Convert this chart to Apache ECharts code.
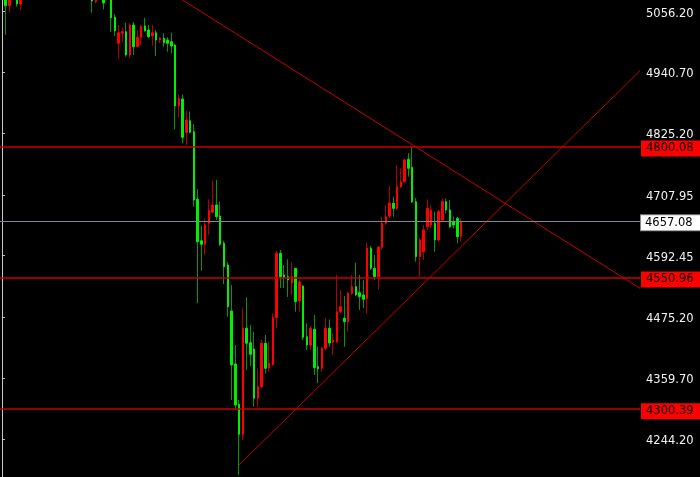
<!DOCTYPE html>
<html><head><meta charset="utf-8">
<script src="https://cdn.jsdelivr.net/npm/echarts@6/dist/echarts.min.js"></script>
<style>html,body{margin:0;padding:0;background:#000;}#c{width:700px;height:477px;}</style>
</head><body><div id="c"></div>
<script>
const N = null;
// candle values, one entry per candle (null = candle above the visible range)
const opens = [5097.5,5067.7,N,5084.2,5070.9, N,N,N,N,N,N,N,N,N,N,N,N,N,N,N,N,N,N,
  5084.2,5076.0,N,5084.2,N,5082.3,5045.6,4996.2,5015.2,5018.2,4973.9,5031.0,4989.7,5007.6,5029.1,5021.5,5010.1,5016.3,5002.4,5005.7,5002.4,4999.2,
  4992.9,4877.0,4890.3,4826.9,4849.0,4828.1,4699.6,4620.8,4614.0,4653.9,4674.8,4688.7,4667.8,4615.9,4574.6,4487.2,4386.4,4309.8,4252.7,4454.3,
  4426.9,4414.9,4321.2,4343.2,4425.8,4378.8,4384.5,4474.4,4596.9,4555.6,4552.4,4540.4,4568.3,4506.2,4534.7,4438.3,4422.5,4452.4,4381.3,4378.2,
  4416.2,4454.3,4428.2,4428.8,4485.8,4473.3,4466.8,4520.8,4533.4,4522.0,4517.6,4511.3,4606.4,4568.3,4552.4,4608.3,4653.9,4667.8,4692.0,4682.4,
  4723.5,4733.0,4775.6,4760.4,4695.0,4590.4,4599.9,4647.5,4650.7,4653.9,4622.2,4660.2,4695.0,4679.2,4657.0,4663.4,4629.8];
const closes = [5067.7,5088.0,N,5070.9,5088.0, N,N,N,N,N,N,N,N,N,N,N,N,N,N,N,N,N,N,
  5076.6,5082.3,N,5072.8,N,5044.8,5020.1,5016.3,5018.2,4973.9,5031.0,4989.7,5007.6,5027.7,5020.1,5008.7,5016.3,5002.4,5005.7,4997.3,4996.2,4991.0,
  4877.0,4891.6,4817.4,4850.3,4826.9,4698.2,4618.9,4614.0,4650.7,4677.9,4688.7,4666.5,4614.0,4571.4,4495.3,4384.5,4308.4,4252.7,4454.3,4425.8,
  4404.8,4321.2,4343.2,4425.8,4378.2,4387.7,4474.4,4596.9,4552.4,4551.2,4546.1,4552.4,4504.9,4542.3,4437.2,4422.5,4454.3,4379.4,4376.9,4416.2,
  4454.3,4426.3,4432.0,4485.8,4495.3,4466.8,4520.8,4533.4,4517.6,4514.4,4509.4,4606.4,4568.3,4552.4,4608.3,4653.9,4666.5,4692.5,4682.4,4723.5,
  4733.0,4774.3,4758.5,4695.0,4590.4,4622.2,4641.2,4682.4,4679.2,4622.2,4676.0,4695.0,4679.2,4647.5,4650.7,4628.4,4657.08];
const lows = [5012.0,5054.4,N,5065.8,5059.5, N,N,N,N,N,N,N,N,N,N,N,N,N,N,N,N,N,N,
  5054.4,5072.2,N,5060.8,N,5018.2,5010.1,4966.3,4997.3,4970.7,4968.8,4973.9,4989.1,4992.9,5018.2,5005.7,4991.6,4972.0,4996.2,4989.7,4980.2,4977.2,
  4832.6,4855.5,4806.0,4802.8,4825.0,4685.5,4501.8,4563.8,4593.6,4631.7,4672.9,4660.2,4610.8,4538.5,4476.3,4317.9,4300.8,4175.0,4241.9,4375.0,
  4382.6,4305.2,4304.6,4340.8,4368.7,4371.7,4383.5,4454.8,4530.9,4530.9,4513.8,4517.6,4485.8,4485.8,4432.0,4413.0,4413.0,4365.5,4349.7,4371.7,
  4413.0,4418.7,4403.5,4426.3,4483.4,4419.3,4447.8,4517.6,4515.7,4489.1,4492.9,4482.8,4565.1,4546.1,4528.4,4603.2,4650.7,4664.0,4666.5,4679.2,
  4721.0,4730.5,4742.5,4692.5,4580.9,4552.4,4584.1,4641.2,4645.0,4599.9,4618.9,4656.4,4672.9,4644.4,4644.4,4615.9,4618.9];
const highs = [5107.0,5097.5,N,5093.7,5097.5, N,N,N,N,N,N,N,N,N,N,N,N,N,N,N,N,N,N,
  5089.9,5088.0,N,5089.9,N,5088.0,5051.9,5031.0,5025.8,5035.3,5034.2,5037.2,5021.5,5031.0,5044.8,5031.0,5031.0,5021.5,5008.7,5015.2,5007.6,5016.3,
  4994.8,4899.2,4899.2,4867.4,4866.1,4842.2,4719.1,4648.8,4663.4,4699.6,4734.9,4736.3,4695.0,4620.8,4579.8,4536.6,4422.5,4317.9,4492.3,4513.2,
  4460.5,4447.8,4378.2,4432.0,4441.5,4428.8,4482.8,4601.3,4603.2,4574.6,4585.5,4579.0,4568.9,4546.1,4536.6,4463.8,4458.6,4479.6,4419.3,4419.3,
  4473.3,4471.0,4444.8,4555.6,4527.1,4515.7,4523.9,4555.6,4579.0,4555.6,4546.1,4617.0,4610.8,4593.6,4610.8,4666.5,4688.7,4724.8,4704.5,4764.8,
  4758.5,4777.5,4787.0,4800.1,4702.0,4626.0,4650.7,4699.6,4688.7,4676.0,4679.2,4701.4,4701.4,4698.2,4666.5,4666.5,4663.4];

const tickValues = [5056.20, 4940.70, 4825.20, 4707.95, 4592.45, 4475.20, 4359.70, 4244.20];
const redLevels = [4800.08, 4550.96, 4300.39];
const currentPrice = 4657.08;
const trendDownX = [48.0, 169.5], trendDownY = [5078.5, 4530.3];
const trendUpX = [63.0, 169.5], trendUpY = [4194.3, 4944.1];
const yMin = 4171.5, yMax = 5078.5;
const slotCount = 170;

const EMPTY = ['-','-','-','-'];
const cats = Array.from({length: slotCount}, (_, k) => String(k));
const wickData = [EMPTY].concat(opens.map((o, i) => o == null ? EMPTY : [o, closes[i], lows[i], highs[i]]));
const bodyData = [EMPTY].concat(opens.map((o, i) => o == null ? EMPTY : [o, closes[i], Math.min(o, closes[i]), Math.max(o, closes[i])]));

const FONT = 'DejaVu Sans';
const levelLines = redLevels.map(v => ({
  yAxis: v,
  lineStyle: {color: '#c80000', width: 1.5, type: 'solid'},
  label: {show: true, position: 'end', distance: 1, offset: [0, 2], formatter: () => v.toFixed(2),
    backgroundColor: '#ff0000', color: '#000', fontFamily: FONT, fontSize: 11.5, padding: [2, 12, 2, 5]}
}));
levelLines.push({
  yAxis: currentPrice,
  lineStyle: {color: '#778899', width: 1.2, type: 'solid'},
  label: {show: true, position: 'end', distance: 1, offset: [0, 1], formatter: () => currentPrice.toFixed(2),
    backgroundColor: '#ffffff', borderColor: '#888', borderWidth: 1, color: '#000', fontFamily: FONT, fontSize: 11.5, padding: [2, 12, 1, 4]}
});

const chart = echarts.init(document.getElementById('c'), null, {renderer: 'canvas'});
chart.setOption({
  backgroundColor: '#000000',
  animation: false,
  grid: {left: 0, right: 60, top: 0, bottom: 0, show: false},
  xAxis: [
    {type: 'category', data: cats, boundaryGap: true, show: false},
    {type: 'value', min: -0.5, max: slotCount - 0.5, show: false}
  ],
  yAxis: {
    type: 'value', position: 'right', min: yMin, max: yMax,
    splitLine: {show: false},
    axisLine: {show: true, lineStyle: {color: '#c8c8c8', width: 1}},
    axisTick: {show: true, inside: false, length: 3, customValues: tickValues, lineStyle: {color: '#c8c8c8'}},
    axisLabel: {show: true, customValues: tickValues, formatter: v => v.toFixed(2), color: '#f2f2f2',
      fontFamily: FONT, fontSize: 11.5, margin: 6, verticalAlign: 'top', lineHeight: 4}
  },
  series: [
    {type: 'candlestick', name: 'wick', data: wickData, barWidth: 1, silent: true,
      itemStyle: {color: '#b00000', color0: '#009a00', borderColor: '#b00000', borderColor0: '#009a00', borderWidth: 1}},
    {type: 'candlestick', name: 'body', data: bodyData, barWidth: 2, silent: true,
      itemStyle: {color: '#ff0000', color0: '#00ee00', borderColor: '#ff0000', borderColor0: '#00ee00', borderWidth: 1}},
    {type: 'line', name: 'down', xAxisIndex: 1, data: trendDownX.map((x, i) => [x, trendDownY[i]]),
      symbol: 'none', silent: true, lineStyle: {color: '#c80000', width: 1}},
    {type: 'line', name: 'up', xAxisIndex: 1, data: trendUpX.map((x, i) => [x, trendUpY[i]]),
      symbol: 'none', silent: true, lineStyle: {color: '#c80000', width: 1}},
    {type: 'line', name: 'levels', data: [], clip: false, silent: true,
      markLine: {symbol: ['none', 'none'], silent: true, animation: false, data: levelLines}}
  ]
});
</script></body></html>
